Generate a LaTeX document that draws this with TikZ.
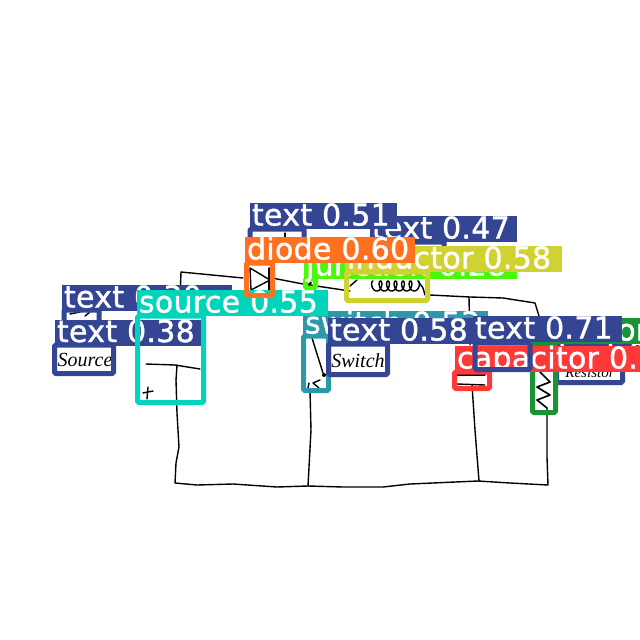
\documentclass[tikz,border=0pt]{standalone}
\usepackage{fontspec}
\newfontfamily\detfont[WordSpace=1.9,LetterSpace=1,FakeBold=1.3]{DejaVu Sans}
\newfontfamily\handfont{Liberation Serif}
\definecolor{DetText}{HTML}{344593}
\definecolor{DetDiode}{HTML}{FF701F}
\definecolor{DetSource}{HTML}{00D4BB}
\definecolor{DetSwitch}{HTML}{2C99A8}
\definecolor{DetInductor}{HTML}{CFD231}
\definecolor{DetJunction}{HTML}{48F90A}
\definecolor{DetCapacitor}{HTML}{FF3838}
\definecolor{DetResistor}{HTML}{1A9334}
\newcommand{\detlab}[1]{\leavevmode\rlap{#1}}
\tikzset{
  detbox/.style={anchor=north west,line width=5pt,rounded corners=1.5pt,inner sep=0pt,outer sep=0pt},
  detlabel/.style={anchor=north west,text=white,font=\detfont\fontsize{30}{30}\selectfont,inner xsep=2pt,inner ysep=0pt,outer sep=0pt,text width=#1pt-4pt,text height=22.5pt,text depth=3.5pt},
  wire/.style={line width=1.4pt,line join=round,line cap=round,black},
  handtext/.style={font=\handfont\itshape,inner sep=0pt,text=black}
}
\begin{document}
\begin{tikzpicture}[x=1pt,y=-1pt]
    \useasboundingbox (0,0) rectangle (640,640);
    \clip (0,0) rectangle (640,640);
    % circuit
    \draw[wire] (176,380) -- (177,413) -- (179,447) -- (176,463) -- (175,483) -- (197,485) -- (233,484) -- (277,487) -- (308,486) -- (343,487) -- (383,487) -- (410,484) -- (478,481) -- (510,483) -- (548,485) -- (547,457) -- (547,440) -- (547,408);
    \draw[wire] (177,365) -- (176,380);
    \draw[wire] (180,300) -- (181,272) -- (243,278);
    \draw[wire] (146,364) -- (175,365) -- (200,369);
    \draw[wire] (143,393) -- (153,391);
    \draw[wire] (148,387) -- (147,399);
    \draw[wire] (310,390) -- (311,430) -- (308,486);
    \draw[wire] (472,385) -- (475,430) -- (479,481);
    \draw[wire] (272,278) -- (303,284) -- (350,291);
    \draw[wire] (430,295) -- (470,297) -- (503,298) -- (535,303) -- (539,316) -- (540,372);
    \draw[wire] (469,297) -- (470,345);
    % diode
    \draw[wire] (250,268) -- (270,280) -- (251,290) -- cycle;
    \draw[wire] (269,268) -- (269,292);
    % inductor
    \draw[wire] (350,286) -- (357,280);
    \draw[wire,domain=0:2160,samples=180,smooth] plot ({373+\x/360*7.5-3*sin(\x)},{286-5*cos(\x)});
    \draw[wire] (418,281) -- (423,288) -- (425,295);
    \draw[wire,line width=2pt] (308,285) -- (311,283);
    % capacitor
    \draw[wire] (457,375) -- (485,375);
    \draw[wire] (457,384) -- (485,385);
    % resistor
    \draw[wire,line width=1.7pt] (540,372) -- (550,382) -- (537,387) -- (550,395) -- (537,400) -- (547,408);
    % switch
    \draw[wire] (312,338) -- (323,373);
    \fill[black] (324,375) circle (2pt);
    \draw[wire] (309,383) -- (308,388);
    \draw[wire] (320,380) -- (313,383) -- (319,388);
    % hidden scribbles
    \draw[wire] (70,314) -- (80,312);
    \draw[wire] (85,316) -- (90,312);
    \draw[wire] (285,233) -- (285,238);
    % handwritten words
    \node[handtext,font=\handfont\itshape\fontsize{20}{20}\selectfont] (wordsource) at (85,360) {Source};
    \node[handtext,font=\handfont\itshape\fontsize{20}{20}\selectfont] (wordswitch) at (358,361) {Switch};
    \node[handtext,font=\handfont\itshape\fontsize{15}{15}\selectfont] (wordresistor) at (590,373) {Resistor};
    % detections, lowest score first
    \node[detbox,draw=DetJunction,minimum width=10pt,minimum height=9pt] (boxjunction) at (305.5,279) {};
    \node[detlabel=213,fill=DetJunction] (labjunction) at (304,253) {\detlab{junction 0.28}};
    \node[detbox,draw=DetText,minimum width=35pt,minimum height=20pt] (boxtexta) at (64,310) {};
    \node[detlabel=170,fill=DetText] (labtexta) at (62,285) {\detlab{text 0.30}};
    \node[detbox,draw=DetText,minimum width=59pt,minimum height=28.5pt] (boxtextb) at (54.5,345) {};
    \node[detlabel=148,fill=DetText] (labtextb) at (55,319.5) {\detlab{text 0.38}};
    \node[detbox,draw=DetText,minimum width=73pt,minimum height=20pt] (boxtextc) at (371,242) {};
    \node[detlabel=147,fill=DetText] (labtextc) at (370,216) {\detlab{text 0.47}};
    \node[detbox,draw=DetText,minimum width=54pt,minimum height=14pt] (boxtextd) at (250,229) {};
    \node[detlabel=147,fill=DetText] (labtextd) at (250,203) {\detlab{text 0.51}};
    \node[detbox,draw=DetText,minimum width=66pt,minimum height=14.5pt] (boxtexte) at (556.5,368) {};
    \node[detlabel=147,fill=DetText] (labtexte) at (556,342) {\detlab{text 0.52}};
    \node[detbox,draw=DetResistor,minimum width=23pt,minimum height=67.5pt] (boxresistor) at (532.5,345) {};
    \node[detlabel=213,fill=DetResistor] (labresistor) at (532,318) {\detlab{resistor 0.53}};
    \node[detbox,draw=DetSwitch,minimum width=25pt,minimum height=54.5pt] (boxswitch) at (303.5,336) {};
    \node[detlabel=185,fill=DetSwitch] (labswitch) at (303,311) {\detlab{switch 0.53}};
    \node[detbox,draw=DetSource,minimum width=66pt,minimum height=86.5pt] (boxsource) at (137.5,316) {};
    \node[detlabel=191,fill=DetSource] (labsource) at (137,290) {\detlab{source 0.55}};
    \node[detbox,draw=DetInductor,minimum width=81pt,minimum height=28.5pt] (boxinductor) at (346.5,272) {};
    \node[detlabel=217,fill=DetInductor] (labinductor) at (345,246) {\detlab{inductor 0.58}};
    \node[detbox,draw=DetText,minimum width=59pt,minimum height=30.5pt] (boxtextf) at (328.5,344) {};
    \node[detlabel=147,fill=DetText] (labtextf) at (328,318) {\detlab{text 0.58}};
    \node[detbox,draw=DetDiode,minimum width=26pt,minimum height=32.5pt] (boxdiode) at (246.5,263) {};
    \node[detlabel=170,fill=DetDiode] (labdiode) at (245,237) {\detlab{diode 0.60}};
    \node[detbox,draw=DetCapacitor,minimum width=35pt,minimum height=16.5pt] (boxcapacitor) at (454.5,372) {};
    \node[detlabel=240,fill=DetCapacitor] (labcapacitor) at (455,346) {\detlab{capacitor 0.63}};
    \node[detbox,draw=DetText,minimum width=55pt,minimum height=26.5pt] (boxtextg) at (475,343) {};
    \node[detlabel=149,fill=DetText] (labtextg) at (473,316) {\detlab{text 0.71}};
\end{tikzpicture}
\end{document}
